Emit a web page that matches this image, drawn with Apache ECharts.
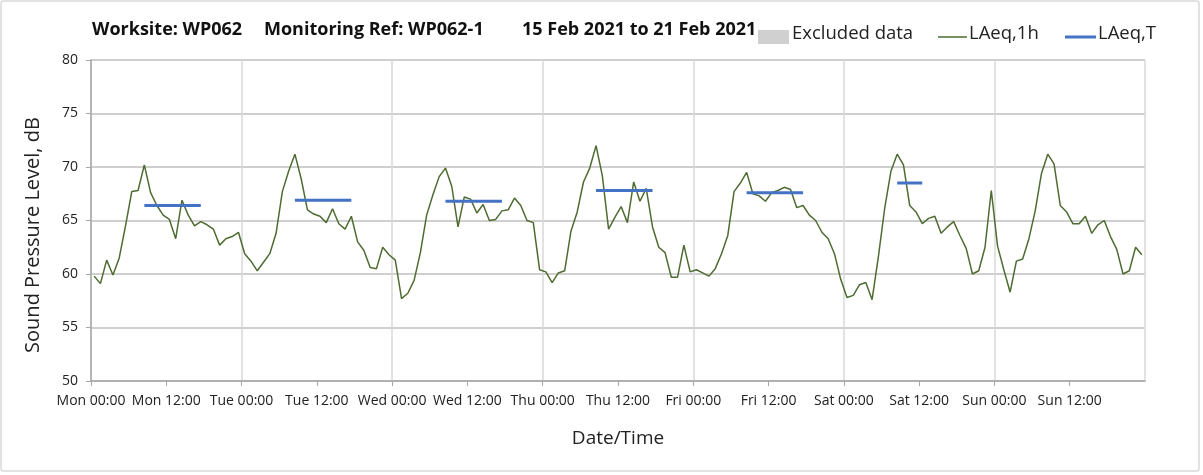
<!DOCTYPE html>
<html>
<head>
<meta charset="utf-8">
<script src="https://cdn.jsdelivr.net/npm/echarts@6/dist/echarts.min.js"></script>
<style>
  html, body { margin: 0; padding: 0; background: #fff; }
  #chart { width: 1203px; height: 475px; }
</style>
</head>
<body>
<div id="chart"></div>
<script>
// hourly LAeq,1h, Mon 00:00 .. Sun 23:00 (one value per hour)
const hourlyLevel = [
  59.8, 59.1, 61.3, 59.9, 61.5, 64.5, 67.7, 67.8, 70.2, 67.6, 66.4, 65.5,
  65.1, 63.3, 66.9, 65.5, 64.5, 64.9, 64.6, 64.2, 62.7, 63.3, 63.5, 63.9,
  61.9, 61.2, 60.3, 61.1, 61.9, 63.8, 67.7, 69.6, 71.2, 68.9, 66.0, 65.6,
  65.4, 64.8, 66.1, 64.7, 64.2, 65.4, 63.0, 62.2, 60.6, 60.5, 62.5, 61.8,
  61.3, 57.7, 58.2, 59.4, 62.0, 65.5, 67.4, 69.1, 69.9, 68.2, 64.4, 67.2,
  67.0, 65.7, 66.5, 65.0, 65.1, 65.9, 66.0, 67.1, 66.4, 65.0, 64.8, 60.4,
  60.2, 59.2, 60.1, 60.3, 64.0, 65.8, 68.6, 69.9, 72.0, 69.2, 64.2, 65.3,
  66.3, 64.8, 68.6, 66.8, 68.0, 64.4, 62.5, 62.0, 59.7, 59.7, 62.7, 60.2,
  60.4, 60.1, 59.8, 60.5, 61.9, 63.6, 67.7, 68.5, 69.5, 67.5, 67.3, 66.8,
  67.6, 67.8, 68.1, 67.9, 66.2, 66.4, 65.5, 65.0, 63.9, 63.3, 61.9, 59.5,
  57.8, 58.0, 59.0, 59.2, 57.6, 61.6, 66.1, 69.6, 71.2, 70.2, 66.4, 65.8,
  64.7, 65.2, 65.4, 63.8, 64.4, 64.9, 63.6, 62.4, 60.0, 60.3, 62.5, 67.8,
  62.6, 60.4, 58.3, 61.2, 61.4, 63.3, 65.9, 69.4, 71.2, 70.3, 66.4, 65.8,
  64.7, 64.7, 65.4, 63.8, 64.6, 65.0, 63.5, 62.3, 60.0, 60.3, 62.5, 61.8
];

// LAeq,T periods (first and last hour index) and level
const periodStart = [8, 32, 56, 80, 104, 128];
const periodEnd = [17, 41, 65, 89, 113, 132];
const periodLevel = [66.4, 66.9, 66.8, 67.8, 67.6, 68.5];

const dayNames = ['Mon', 'Tue', 'Wed', 'Thu', 'Fri', 'Sat', 'Sun'];
const timeNames = ['00:00', '12:00'];

const titleParts = ['Worksite: WP062', 'Monitoring Ref: WP062-1', '15 Feb 2021 to 21 Feb 2021'];

const FONT = '"Open Sans", sans-serif';

// points sit in the middle of each hour
const lineData = hourlyLevel.map((v, i) => [i + 0.5, v]);

const periodData = [];
periodStart.forEach((s, k) => {
  for (let h = s; h <= periodEnd[k]; h++) periodData.push([h + 0.5, periodLevel[k]]);
  periodData.push([periodEnd[k] + 1, null]);
});

const chart = echarts.init(document.getElementById('chart'));

chart.setOption({
  animation: false,
  backgroundColor: '#fff',
  grid: { left: 91, right: 58, top: 60, bottom: 94 },
  xAxis: [
    {
      type: 'value',
      min: 0,
      max: 168,
      interval: 12,
      name: 'Date/Time',
      nameLocation: 'middle',
      nameGap: 48,
      nameTextStyle: { fontFamily: FONT, fontSize: 19, color: '#222' },
      axisLine: { lineStyle: { color: '#a6a6a6', width: 1.5 } },
      axisTick: { length: 5, lineStyle: { color: '#a6a6a6' } },
      axisLabel: {
        fontFamily: FONT,
        fontSize: 14,
        color: '#222',
        margin: 13,
        showMaxLabel: false,
        formatter: (v) => {
          const d = Math.floor(v / 24);
          if (d > 6) return '';
          return dayNames[d] + ' ' + timeNames[(v % 24) / 12];
        }
      },
      splitLine: { show: false }
    },
    {
      // daily vertical grid lines only
      type: 'value',
      min: 0,
      max: 168,
      interval: 24,
      position: 'bottom',
      axisLine: { show: false },
      axisTick: { show: false },
      axisLabel: { show: false },
      splitLine: { show: true, lineStyle: { color: '#d9d9d9', width: 1.5 } }
    }
  ],
  yAxis: {
    type: 'value',
    min: 50,
    max: 80,
    interval: 5,
    axisLine: { show: true, lineStyle: { color: '#a6a6a6', width: 1.5 } },
    axisTick: { show: true, length: 5, lineStyle: { color: '#a6a6a6' } },
    axisLabel: { fontFamily: FONT, fontSize: 14, color: '#222', margin: 13 },
    splitLine: { lineStyle: { color: '#bfbfbf', width: 1.5 } }
  },
  series: [
    {
      name: 'LAeq,1h',
      type: 'line',
      data: lineData,
      showSymbol: false,
      symbol: 'none',
      lineStyle: { color: '#4e6b31', width: 1.5 },
      z: 3
    },
    {
      name: 'LAeq,T',
      type: 'line',
      data: periodData,
      showSymbol: false,
      symbol: 'none',
      connectNulls: false,
      lineStyle: { color: '#4472c4', width: 3 },
      z: 4
    }
  ],
  graphic: [
    {
      type: 'rect',
      shape: { x: 1, y: 1, width: 1198, height: 470, r: 3 },
      style: { fill: 'none', stroke: '#d9d9d9', lineWidth: 1.5 },
      silent: true
    },
    // y axis title
    {
      type: 'text',
      x: 33,
      y: 235,
      rotation: Math.PI / 2,
      style: {
        text: 'Sound Pressure Level, dB',
        font: '20px ' + FONT,
        fill: '#222',
        textAlign: 'center',
        textVerticalAlign: 'middle'
      }
    },
    { type: 'text', left: 92, top: 21, style: { text: titleParts[0], font: 'bold 18px ' + FONT, fill: '#111' } },
    { type: 'text', left: 264, top: 21, style: { text: titleParts[1], font: 'bold 18px ' + FONT, fill: '#111' } },
    { type: 'text', left: 522, top: 21, style: { text: titleParts[2], font: 'bold 18px ' + FONT, fill: '#111' } },
    // legend
    { type: 'rect', shape: { x: 758, y: 30, width: 31, height: 14 }, style: { fill: '#d0d0d0' } },
    { type: 'text', left: 792, top: 24, style: { text: 'Excluded data', font: '18.5px ' + FONT, fill: '#222' } },
    { type: 'line', shape: { x1: 938, y1: 37, x2: 967, y2: 37 }, style: { stroke: '#4e6b31', lineWidth: 1.5 } },
    { type: 'text', left: 969, top: 24, style: { text: 'LAeq,1h', font: '18.5px ' + FONT, fill: '#222' } },
    { type: 'line', shape: { x1: 1065, y1: 37, x2: 1096, y2: 37 }, style: { stroke: '#4472c4', lineWidth: 3 } },
    { type: 'text', left: 1098, top: 24, style: { text: 'LAeq,T', font: '18.5px ' + FONT, fill: '#222' } }
  ]
});
</script>
</body>
</html>
